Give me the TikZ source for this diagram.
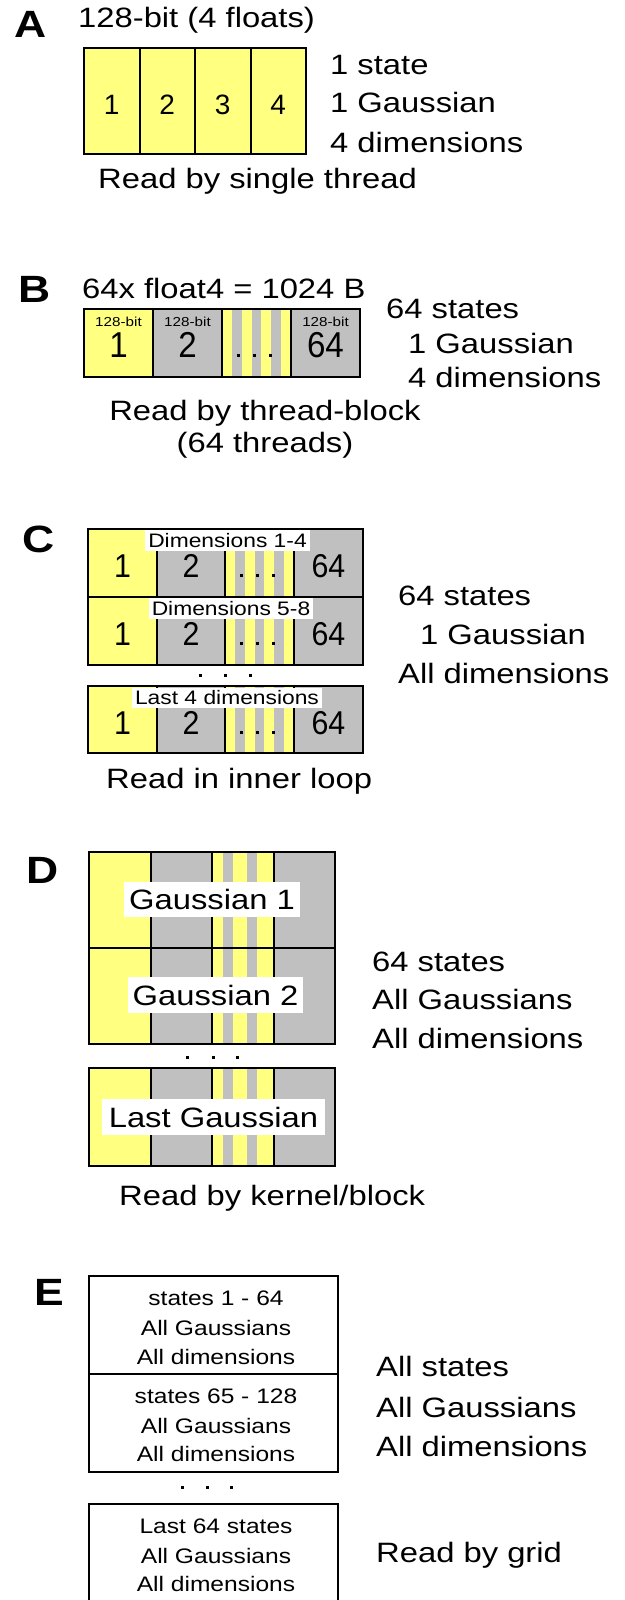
\documentclass[tikz,border=0pt]{standalone}
\usepackage{fontspec}
\setmainfont{Liberation Sans}[FakeStretch=1.17]
\newfontfamily\cellfont{Liberation Sans}
\newfontfamily\narrowfont{Liberation Sans}[FakeStretch=0.92]
\definecolor{ylw}{RGB}{255,255,128}
\definecolor{gry}{RGB}{192,192,192}
\begin{document}
\begin{tikzpicture}[x=1pt,y=-1pt,
  frame/.style={line width=2pt},
  txt/.style={inner sep=0pt, anchor=base west, font=\fontsize{28}{30}\selectfont},
  ctxt/.style={inner sep=0pt, anchor=base, font=\fontsize{28}{30}\selectfont},
  panel/.style={inner sep=0pt, anchor=base west, font=\fontsize{38}{40}\selectfont\bfseries},
  dig/.style={inner sep=0pt, anchor=base, font=\cellfont\fontsize{28}{30}\selectfont},
  bigdig/.style={inner sep=0pt, anchor=base, font=\narrowfont\fontsize{36}{38}\selectfont},
  rowdig/.style={inner sep=0pt, anchor=base, font=\narrowfont\fontsize{33}{35}\selectfont},
  tinylbl/.style={inner sep=0pt, anchor=base, font=\fontsize{13}{14}\selectfont},
  dimlbl/.style={fill=white, inner sep=0pt, font=\fontsize{19.5}{21}\selectfont},
  gaulbl/.style={fill=white, inner sep=0pt, font=\fontsize{28}{30}\selectfont},
  etxt/.style={inner sep=0pt, anchor=base, font=\fontsize{21}{22}\selectfont},
  dot/.style={rectangle, fill=black, inner sep=0pt, minimum size=3pt}
]
\useasboundingbox (0,0) rectangle (624,1600);
\fill[white] (0,0) rectangle (624,1600);

% ---------- A: one float4 ----------
\node[panel] (la) at (14,38) {A};
\node[txt] (ta) at (78,28) {128-bit (4 floats)};
\fill[ylw] (84,48) rectangle (306,154);
\draw[frame] (84,48) rectangle (306,154);
\foreach \x in {139.5,195,250.5} \draw[frame] (\x,48) -- (\x,154);
\foreach \n/\x in {1/111.75,2/167.25,3/222.75,4/278.25}
  \node[dig] (a\n) at (\x,115) {\n};
\node[txt] (ra1) at (330,75) {1 state};
\node[txt] (ra2) at (330,113) {1 Gaussian};
\node[txt] (ra3) at (330,152) {4 dimensions};
\node[txt] (ba) at (98,188) {Read by single thread};

% ---------- B: 64 float4 ----------
\node[panel] (lb) at (18,302) {B};
\node[txt] (tb) at (82,298) {64x float4 = 1024 B};
\fill[ylw] (84,309) rectangle (153,377);
\fill[gry] (153,309) rectangle (360,377);
\foreach \i in {0,2,4,6}
  \fill[ylw] ({222+\i*69/7},309) rectangle ({222+(\i+1)*69/7},377);
\draw[frame] (84,309) rectangle (360,377);
\foreach \x in {153,222,291} \draw[frame] (\x,309) -- (\x,377);
\foreach \n/\x in {1/118.5,2/187.5,4/325.5}
  \node[tinylbl] (bs\n) at (\x,326) {128-bit};
\node[bigdig] (b1) at (118.5,357) {1};
\node[bigdig] (b2) at (187.5,357) {2};
\node[bigdig] (b4) at (325.5,357) {64};
\foreach \n/\x in {1/238,2/254,3/270} \node[dot] (bd\n) at (\x,355) {};
\node[txt] (rb1) at (386,318) {64 states};
\node[txt] (rb2) at (408,353) {1 Gaussian};
\node[txt] (rb3) at (408,387) {4 dimensions};
\node[ctxt] (bb1) at (265,420) {Read by thread-block};
\node[ctxt] (bb2) at (265,452) {(64 threads)};

% ---------- C: inner loop over dimensions ----------
\node[panel] (lc) at (22,552) {C};
\foreach \r/\t/\h in {1/529/68,2/597/68,3/686/67} {
  \fill[ylw] (88,\t) rectangle (157,\t+\h);
  \fill[gry] (157,\t) rectangle (363,\t+\h);
  \foreach \i in {0,2,4,6}
    \fill[ylw] ({225+\i*69/7},\t) rectangle ({225+(\i+1)*69/7},\t+\h);
  \draw[frame] (88,\t) rectangle (363,\t+\h);
  \foreach \x in {157,225,294} \draw[frame] (\x,\t) -- (\x,\t+\h);
  \node[rowdig] (c\r a) at (122.5,\t+48) {1};
  \node[rowdig] (c\r b) at (191,\t+48) {2};
  \node[rowdig] (c\r c) at (328.5,\t+48) {64};
  \foreach \n/\x in {1/241,2/257,3/273} \node[dot] (c\r d\n) at (\x,\t+46) {};
}
\node[dimlbl, minimum width=165pt, minimum height=21pt] (cl1) at (227.5,540.5) {Dimensions 1-4};
\node[dimlbl, minimum width=164pt, minimum height=21pt] (cl2) at (231,608.5) {Dimensions 5-8};
\node[dimlbl, minimum width=190pt, minimum height=20pt] (cl3) at (227,697.5) {Last 4 dimensions};
\foreach \n/\x in {1/200,2/225,3/250} \node[dot] (cv\n) at (\x,675) {};
\node[txt] (rc1) at (398,605) {64 states};
\node[txt] (rc2) at (420,644) {1 Gaussian};
\node[txt] (rc3) at (398,683) {All dimensions};
\node[txt] (bc) at (106,788) {Read in inner loop};

% ---------- D: all Gaussians per block ----------
\node[panel] (ld) at (26,883) {D};
\foreach \r/\t/\h in {1/852/96,2/948/96,3/1068/98} {
  \fill[ylw] (89,\t) rectangle (150.5,\t+\h);
  \fill[gry] (150.5,\t) rectangle (335,\t+\h);
  \foreach \a/\b in {212/223,233/247,257/273.5}
    \fill[ylw] (\a,\t) rectangle (\b,\t+\h);
  \draw[frame] (89,\t) rectangle (335,\t+\h);
  \foreach \x in {150.5,212,273.5} \draw[frame] (\x,\t) -- (\x,\t+\h);
}
\node[gaulbl, minimum width=176pt, minimum height=35pt] (dl1) at (212,899.5) {Gaussian 1};
\node[gaulbl, minimum width=175pt, minimum height=36pt] (dl2) at (215.5,995) {Gaussian 2};
\node[gaulbl, minimum width=223pt, minimum height=36pt] (dl3) at (213.5,1117) {Last Gaussian};
\foreach \n/\x in {1/187,2/213,3/237} \node[dot] (dv\n) at (\x,1057) {};
\node[txt] (rd1) at (372,971) {64 states};
\node[txt] (rd2) at (372,1009) {All Gaussians};
\node[txt] (rd3) at (372,1048) {All dimensions};
\node[txt] (bd) at (119,1205) {Read by kernel/block};

% ---------- E: whole grid ----------
\node[panel] (le) at (34,1305) {E};
\draw[frame] (89,1276) rectangle (338,1374);
\draw[frame] (89,1374) rectangle (338,1472);
\draw[frame] (89,1600) -- (89,1504) -- (338,1504) -- (338,1600);
\node[etxt] (e11) at (216,1305) {states 1 - 64};
\node[etxt] (e12) at (216,1335) {All Gaussians};
\node[etxt] (e13) at (216,1364) {All dimensions};
\node[etxt] (e21) at (216,1403) {states 65 - 128};
\node[etxt] (e22) at (216,1433) {All Gaussians};
\node[etxt] (e23) at (216,1461) {All dimensions};
\node[etxt] (e31) at (216,1533) {Last 64 states};
\node[etxt] (e32) at (216,1563) {All Gaussians};
\node[etxt] (e33) at (216,1591) {All dimensions};
\foreach \n/\x in {1/182,2/207,3/231} \node[dot] (ev\n) at (\x,1487) {};
\node[txt] (re1) at (376,1376) {All states};
\node[txt] (re2) at (376,1417) {All Gaussians};
\node[txt] (re3) at (376,1456) {All dimensions};
\node[txt] (re4) at (376,1562) {Read by grid};
\end{tikzpicture}
\end{document}
